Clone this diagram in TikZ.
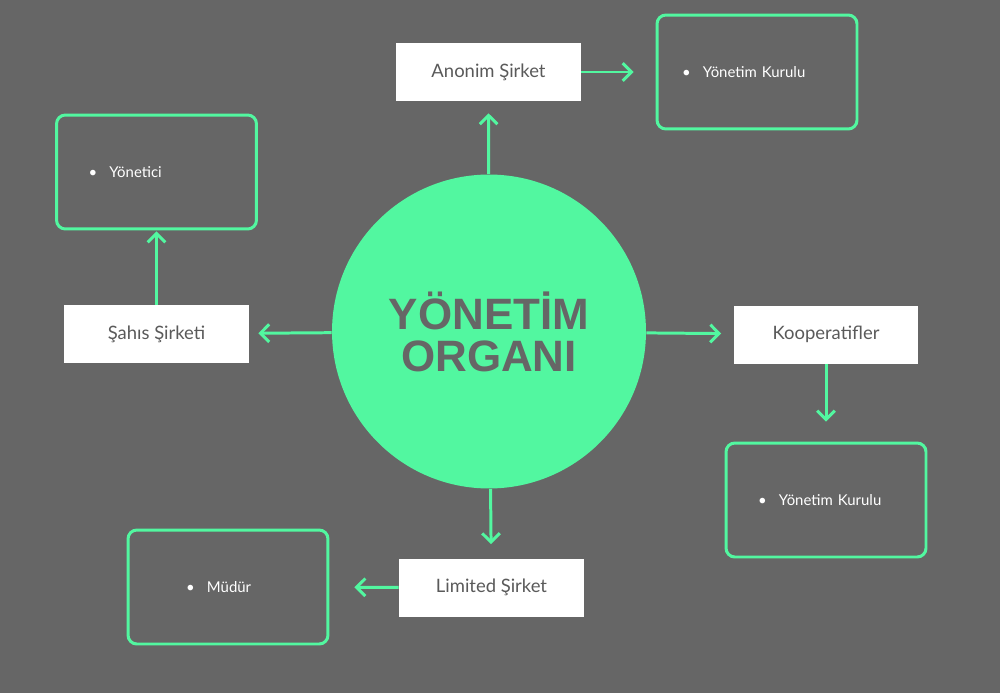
\documentclass[tikz,border=0pt]{standalone}
\usepackage{fontspec}
\setmainfont{Lato}
\newfontfamily\hubfont{Liberation Sans}
\usepackage{tikz}
\usetikzlibrary{positioning,arrows.meta}

\definecolor{canvas}{RGB}{102,102,102}
\definecolor{mint}{RGB}{82,247,160}
\definecolor{ink}{RGB}{90,90,90}

\begin{document}
\begin{tikzpicture}[x=0.02cm, y=-0.02cm,
    hub/.style={circle, fill=mint, minimum size=6.28cm, inner sep=0pt, align=center,
        text=canvas, font=\hubfont\bfseries\fontsize{25}{24}\selectfont},
    firm/.style={rectangle, fill=white, minimum width=3.7cm, minimum height=1.16cm,
        text=ink, font=\fontsize{10.5}{12}\selectfont},
    duty/.style={rectangle, rounded corners=5pt, draw=mint, line width=1.7pt,
        minimum width=3.98cm, minimum height=2.28cm, inner xsep=0.5cm,
        text width=3cm, align=left, text=white, font=\fontsize{8.5}{10}\selectfont},
    link/.style={draw=mint, line width=1.7pt, -{Straight Barb[length=5pt,width=10pt]}}]
        \useasboundingbox (0,0) rectangle (1000,693);
        \fill[canvas] (0,0) rectangle (1000,693);

        % Define nodes
        \node[hub]  at (489,331.5)    (organ)    {YÖNETİM\\ORGANI};
        \node[firm] at (488.5,72)     (anonim)   {Anonim Şirket};
        \node[firm] at (156.5,334)    (sahis)    {Şahıs Şirketi};
        \node[firm] at (826,334.5)    (koop)     {Kooperatifler};
        \node[firm] at (491.5,587.5)  (limited)  {Limited Şirket};
        \node[duty] at (757,72)       (kurulA)   {\textbullet\hspace{7pt}Yönetim Kurulu};
        \node[duty] at (156.5,172)    (yonetici) {\hspace{0.14cm}\textbullet\hspace{7pt}Yönetici};
        \node[duty] at (826,500)      (kurulK)   {\hspace{0.14cm}\textbullet\hspace{7pt}Yönetim Kurulu};
        \node[duty] at (228,587)      (mudur)    {\hspace{0.66cm}\textbullet\hspace{7pt}Müdür};

        % Connect the nodes
        \draw[link, shorten >=0.24cm] (organ) -- (anonim);
        \draw[link, shorten >=0.44cm] (anonim) -- (kurulA);
        \draw[link, shorten >=0.18cm] (organ) -- (sahis);
        \draw[link, shorten >=0.02cm] (sahis) -- (yonetici);
        \draw[link, shorten >=0.24cm] (organ) -- (koop);
        \draw[link, shorten >=0.40cm] (koop) -- (kurulK);
        \draw[link, shorten >=0.28cm] (organ) -- (limited);
        \draw[link, shorten >=0.50cm] (limited) -- (mudur);

    \end{tikzpicture}
\end{document}
